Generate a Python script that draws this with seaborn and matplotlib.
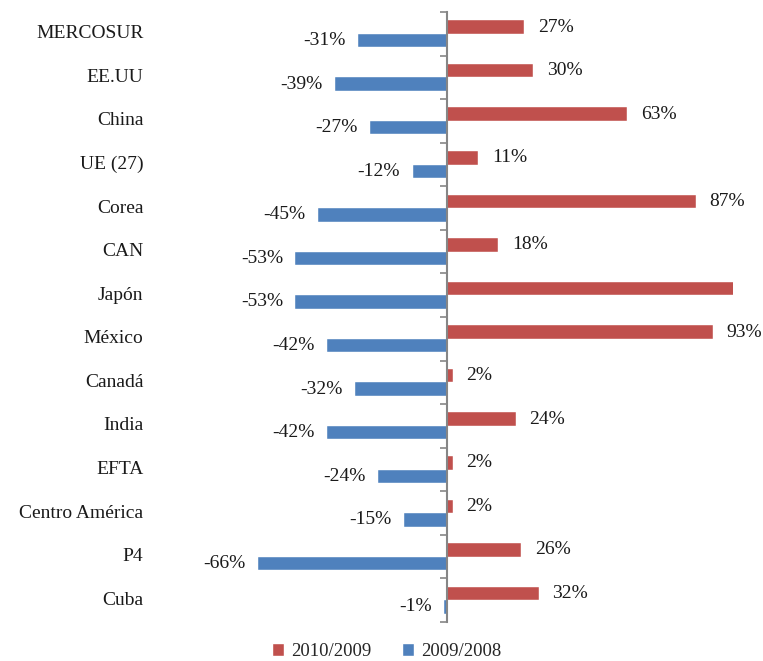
import matplotlib
matplotlib.use("Agg")
import matplotlib.pyplot as plt
import matplotlib.transforms as mtransforms
from matplotlib.patches import Patch
import seaborn as sns
import pandas as pd
import numpy as np

categories = ["MERCOSUR", "EE.UU", "China", "UE (27)", "Corea", "CAN", "Japón",
              "México", "Canadá", "India", "EFTA", "Centro América", "P4", "Cuba"]
series_names = ["2010/2009", "2009/2008"]
v_2010_2009 = [27, 30, 63, 11, 87, 18, 101, 93, 2, 24, 2, 2, 26, 32]
v_2009_2008 = [-31, -39, -27, -12, -45, -53, -53, -42, -32, -42, -24, -15, -66, -1]
colors = ["#C0504D", "#4F81BD"]

df = pd.DataFrame({
    "cat": categories * 2,
    "serie": [series_names[0]] * len(categories) + [series_names[1]] * len(categories),
    "val": v_2010_2009 + v_2009_2008,
})

sns.set_style("white")
plt.rcParams["font.family"] = ["Liberation Serif", "DejaVu Serif"]

fig = plt.figure(figsize=(7.63, 6.61), dpi=100)
ax = fig.add_axes([161 / 763, 1 - 622 / 661, (733 - 161) / 763, (622 - 12) / 661])

sns.barplot(data=df, y="cat", x="val", hue="serie", order=categories,
            hue_order=series_names, palette=colors, orient="h", width=0.62,
            ax=ax, legend=False, edgecolor="white", linewidth=0.3, saturation=1)

ax.set_xlim(-100, 100)
ax.set_ylim(len(categories) - 0.5, -0.5)
ax.set_xlabel("")
ax.set_ylabel("")
ax.set_xticks([])
for s in ["top", "right", "bottom"]:
    ax.spines[s].set_visible(False)
ax.spines["left"].set_position(("data", 0))
ax.spines["left"].set_color("#868686")
ax.spines["left"].set_linewidth(1.5)
ax.set_yticks(np.arange(len(categories) + 1) - 0.5)
ax.set_yticklabels([])
ax.tick_params(axis="y", direction="out", length=5, width=1.2, color="#868686", left=True)

# category labels at left of plot area
trans = mtransforms.blended_transform_factory(ax.transAxes, ax.transData)
for i, c in enumerate(categories):
    ax.text(-0.031, i, c, transform=trans, ha="right", va="center", fontsize=14,
            color="#1a1a1a")

# value labels
for container, vals in zip(ax.containers, [v_2010_2009, v_2009_2008]):
    for rect, v in zip(container, vals):
        yc = rect.get_y() + rect.get_height() / 2
        if v > 100 or v < -100:
            continue
        if v >= 0:
            ax.annotate(f"{v}%", (v, yc), xytext=(10, 0), textcoords="offset points",
                        ha="left", va="center", fontsize=14, color="#1a1a1a")
        else:
            ax.annotate(f"{v}%", (v, yc), xytext=(-9, 0), textcoords="offset points",
                        ha="right", va="center", fontsize=14, color="#1a1a1a")

handles = [Patch(facecolor=colors[0], label=series_names[0]),
           Patch(facecolor=colors[1], label=series_names[1])]
fig.legend(handles=handles, loc="lower center", bbox_to_anchor=(0.507, -0.024),
           ncol=2, frameon=False, fontsize=13.5, handlelength=0.65, handleheight=0.65,
           handletextpad=0.4, columnspacing=1.6)

fig.savefig("out.png", dpi=100)
